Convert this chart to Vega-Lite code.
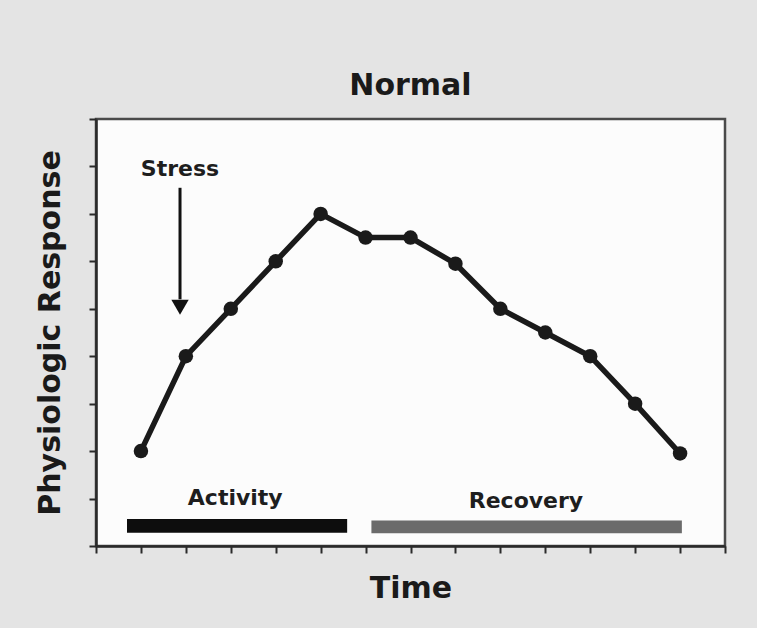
{
  "$schema": "https://vega.github.io/schema/vega-lite/v6.json",
  "width": 629,
  "height": 427,
  "autosize": {"type": "none"},
  "padding": {"left": 96, "top": 119, "right": 32, "bottom": 82},
  "background": "#e4e4e4",
  "title": {
    "text": "Normal",
    "font": "DejaVu Sans",
    "fontSize": 30,
    "fontWeight": "bold",
    "color": "#1a1a1a",
    "anchor": "middle",
    "baseline": "alphabetic",
    "offset": -7
  },
  "config": {
    "view": {"fill": "#fcfcfc", "stroke": "#4a4a4a", "strokeWidth": 2.5}
  },
  "datasets": {
    "response": [
      {"time": 1, "response": 2.0},
      {"time": 2, "response": 4.0},
      {"time": 3, "response": 5.0},
      {"time": 4, "response": 6.0},
      {"time": 5, "response": 7.0},
      {"time": 6, "response": 6.5},
      {"time": 7, "response": 6.5},
      {"time": 8, "response": 5.95},
      {"time": 9, "response": 5.0},
      {"time": 10, "response": 4.5},
      {"time": 11, "response": 4.0},
      {"time": 12, "response": 3.0},
      {"time": 13, "response": 1.95}
    ],
    "phases": [
      {"phase": "Activity", "start": 0.69, "end": 5.59, "low": 0.28, "high": 0.57, "lx": 3.1, "ly": 0.86},
      {"phase": "Recovery", "start": 6.13, "end": 13.04, "low": 0.27, "high": 0.54, "lx": 9.57, "ly": 0.80}
    ],
    "stress": [
      {"label": "Stress", "x": 1.87, "ly": 7.8, "top": 7.55, "bottom": 5.2, "tip": 5.03}
    ]
  },
  "layer": [
    {
      "data": {"name": "phases"},
      "mark": {"type": "rect"},
      "encoding": {
        "x": {
          "field": "start",
          "type": "quantitative",
          "scale": {"domain": [0, 14], "nice": false, "zero": false},
          "axis": {
            "values": [0, 1, 2, 3, 4, 5, 6, 7, 8, 9, 10, 11, 12, 13, 14],
            "labels": false,
            "grid": false,
            "tickSize": 7,
            "tickWidth": 2,
            "tickColor": "#2a2a2a",
            "domainColor": "#2a2a2a",
            "domainWidth": 2.5,
            "title": "Time",
            "titleFont": "DejaVu Sans",
            "titleFontSize": 30,
            "titleFontWeight": "bold",
            "titleColor": "#1a1a1a",
            "titleBaseline": "alphabetic",
            "titleAlign": "center",
            "titleX": 314.5,
            "titleY": 51
          }
        },
        "x2": {"field": "end"},
        "y": {
          "field": "low",
          "type": "quantitative",
          "scale": {"domain": [0, 9], "nice": false, "zero": false},
          "axis": {
            "values": [0, 1, 2, 3, 4, 5, 6, 7, 8, 9],
            "labels": false,
            "grid": false,
            "tickSize": 7,
            "tickWidth": 2,
            "tickColor": "#2a2a2a",
            "domainColor": "#2a2a2a",
            "domainWidth": 2.5,
            "title": "Physiologic Response",
            "titleFont": "DejaVu Sans",
            "titleFontSize": 30,
            "titleFontWeight": "bold",
            "titleColor": "#1a1a1a",
            "titleBaseline": "alphabetic",
            "titleAlign": "center",
            "titleAngle": 270,
            "titleX": -37,
            "titleY": 213.5
          }
        },
        "y2": {"field": "high"},
        "color": {
          "field": "phase",
          "type": "nominal",
          "scale": {"domain": ["Activity", "Recovery"], "range": ["#0d0d0d", "#6b6b6b"]},
          "legend": null
        }
      }
    },
    {
      "data": {"name": "phases"},
      "mark": {
        "type": "text",
        "font": "DejaVu Sans",
        "fontSize": 22,
        "fontWeight": "bold",
        "color": "#1e1e1e",
        "align": "center",
        "baseline": "alphabetic"
      },
      "encoding": {
        "x": {"field": "lx", "type": "quantitative"},
        "y": {"field": "ly", "type": "quantitative"},
        "text": {"field": "phase"}
      }
    },
    {
      "data": {"name": "response"},
      "mark": {"type": "line", "color": "#1a1a1a", "strokeWidth": 5.5},
      "encoding": {
        "x": {"field": "time", "type": "quantitative"},
        "y": {"field": "response", "type": "quantitative"}
      }
    },
    {
      "data": {"name": "response"},
      "mark": {"type": "point", "filled": true, "color": "#1a1a1a", "opacity": 1, "size": 210},
      "encoding": {
        "x": {"field": "time", "type": "quantitative"},
        "y": {"field": "response", "type": "quantitative"}
      }
    },
    {
      "data": {"name": "stress"},
      "mark": {
        "type": "text",
        "font": "DejaVu Sans",
        "fontSize": 22,
        "fontWeight": "bold",
        "color": "#1e1e1e",
        "align": "center",
        "baseline": "alphabetic"
      },
      "encoding": {
        "x": {"field": "x", "type": "quantitative"},
        "y": {"field": "ly", "type": "quantitative"},
        "text": {"field": "label"}
      }
    },
    {
      "data": {"name": "stress"},
      "mark": {"type": "rule", "color": "#111111", "strokeWidth": 3},
      "encoding": {
        "x": {"field": "x", "type": "quantitative"},
        "y": {"field": "top", "type": "quantitative"},
        "y2": {"field": "bottom"}
      }
    },
    {
      "data": {"name": "stress"},
      "mark": {"type": "point", "shape": "triangle-down", "filled": true, "color": "#111111", "opacity": 1, "size": 300},
      "encoding": {
        "x": {"field": "x", "type": "quantitative"},
        "y": {"field": "tip", "type": "quantitative"}
      }
    }
  ]
}
